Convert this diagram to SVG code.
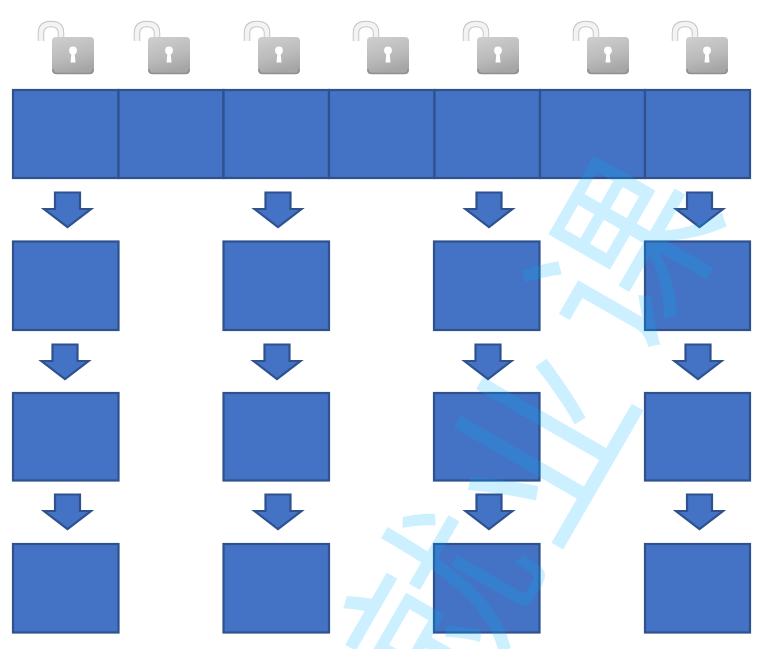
<svg xmlns="http://www.w3.org/2000/svg" xmlns:xlink="http://www.w3.org/1999/xlink" width="770" height="649" viewBox="0 0 770 649">
<style>
.b{fill:#4472c4;stroke:#2f528f;stroke-width:2.2}
.a{fill:#4472c4;stroke:#2f528f;stroke-width:2.2;stroke-linejoin:miter}
.wm{font-family:"Noto Sans CJK SC",sans-serif;font-size:182px;font-weight:400;fill:#00b4ff;fill-opacity:.2;text-anchor:middle;dominant-baseline:central}
</style>
<defs>
<linearGradient id="body" x1="0" y1="0" x2=".3" y2="1"><stop offset="0" stop-color="#cfcfcf"/><stop offset=".6" stop-color="#bbbbbb"/><stop offset="1" stop-color="#a6a6a6"/></linearGradient>
<g id="lock">
<path d="M4 20V12C4 5.500 8 3 14 3S24 5.500 24 12V19" fill="none" stroke="#c4c4c4" stroke-width="6.500"/>
<path d="M4 20V12C4 5.500 8 3 14 3S24 5.500 24 12V19" fill="none" stroke="#f3f3f3" stroke-width="4.600"/>
<rect x="15" y="16" width="42" height="37" rx="4" fill="url(#body)"/>
<path d="M16 48q0 4.500 4 4.500h32q4 0 4-4.500" fill="none" stroke="#8f8f8f" stroke-width="1.500"/>
<circle cx="36" cy="29.500" r="3.900" fill="#fff"/>
<path d="M34.500 31h3l1 10.500h-5z" fill="#fff"/>
</g>
<path id="arr" d="M-12.500 0H12.500V16.500H23.500L0 34.500L-23.500 16.500H-12.500Z"/>
</defs>
<g id="locks">
<use id="lock1" xlink:href="#lock" href="#lock" x="37" y="21"/>
<use id="lock2" xlink:href="#lock" href="#lock" x="133" y="21"/>
<use id="lock3" xlink:href="#lock" href="#lock" x="243" y="21"/>
<use id="lock4" xlink:href="#lock" href="#lock" x="352" y="21"/>
<use id="lock5" xlink:href="#lock" href="#lock" x="462" y="21"/>
<use id="lock6" xlink:href="#lock" href="#lock" x="572" y="21"/>
<use id="lock7" xlink:href="#lock" href="#lock" x="671" y="21"/>
</g>
<g id="top-row">
<g id="t1"><rect class="b" x="13" y="90" width="105.500" height="88"/></g>
<g id="t2"><rect class="b" x="118.500" y="90" width="105" height="88"/></g>
<g id="t3"><rect class="b" x="223.500" y="90" width="105.500" height="88"/></g>
<g id="t4"><rect class="b" x="329" y="90" width="105.500" height="88"/></g>
<g id="t5"><rect class="b" x="434.500" y="90" width="105.500" height="88"/></g>
<g id="t6"><rect class="b" x="540" y="90" width="105" height="88"/></g>
<g id="t7"><rect class="b" x="645" y="90" width="105" height="88"/></g>
</g>
<g id="connectors">
<use class="a" href="#arr" x="67.500" y="192.500"/><use class="a" href="#arr" x="278" y="192.500"/><use class="a" href="#arr" x="489" y="192.500"/><use class="a" href="#arr" x="699.500" y="192.500"/>
<use class="a" href="#arr" x="65" y="344.500"/><use class="a" href="#arr" x="277" y="344.500"/><use class="a" href="#arr" x="488" y="344.500"/><use class="a" href="#arr" x="698" y="344.500"/>
<use class="a" href="#arr" x="67.500" y="494.500"/><use class="a" href="#arr" x="278" y="494.500"/><use class="a" href="#arr" x="489" y="494.500"/><use class="a" href="#arr" x="699.500" y="494.500"/>
</g>
<g id="r1">
<g id="n11"><rect class="b" x="13" y="241.500" width="105.500" height="88.500"/></g>
<g id="n12"><rect class="b" x="223.500" y="241.500" width="105.500" height="88.500"/></g>
<g id="n13"><rect class="b" x="434" y="241.500" width="105.500" height="88.500"/></g>
<g id="n14"><rect class="b" x="645" y="241.500" width="105" height="88.500"/></g>
</g>
<g id="r2">
<g id="n21"><rect class="b" x="13" y="393" width="105.500" height="87.500"/></g>
<g id="n22"><rect class="b" x="223.500" y="393" width="105.500" height="87.500"/></g>
<g id="n23"><rect class="b" x="434" y="393" width="105.500" height="87.500"/></g>
<g id="n24"><rect class="b" x="645" y="393" width="105" height="87.500"/></g>
</g>
<g id="r3">
<g id="n31"><rect class="b" x="13" y="544" width="105.500" height="88.500"/></g>
<g id="n32"><rect class="b" x="223.500" y="544" width="105.500" height="88.500"/></g>
<g id="n33"><rect class="b" x="434" y="544" width="105.500" height="88.500"/></g>
<g id="n34"><rect class="b" x="645" y="544" width="105" height="88.500"/></g>
</g>
<g id="watermark">
<text class="wm" transform="translate(615 250) rotate(-60)">课</text>
<text class="wm" transform="translate(530 438) rotate(-60)">业</text>
<text class="wm" transform="translate(430 600) rotate(-60)">就</text>
</g>
</svg>
